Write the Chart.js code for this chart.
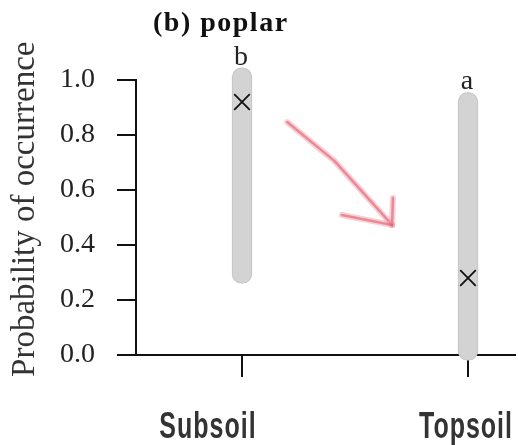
<!DOCTYPE html>
<html>
<head>
<meta charset="utf-8">
<script src="https://cdn.jsdelivr.net/npm/chart.js@4/dist/chart.umd.min.js"></script>
<style>
  html, body { margin: 0; padding: 0; background: #fff; }
  #wrap { width: 518px; height: 445px; }
</style>
</head>
<body>
<div id="wrap"><canvas id="chart"></canvas></div>
<script>
const SERIF = "'Liberation Serif', 'Times New Roman', serif";
const SANS = "'Liberation Sans', Arial, sans-serif";

// datos
const categories = ['Subsoil', 'Topsoil'];
const rangeLow = [0.26, -0.02];
const rangeHigh = [1.045, 0.955];
const meanValues = [0.92, 0.28];
const groupLetters = ['b', 'a'];
const titleText = '(b) poplar';
const yTitle = '  Probability of occurrence';

// flecha roja (x = indice de categoria, y = probabilidad)
const arrowShaft = [[0.2, 0.847], [0.41, 0.705], [0.664, 0.473]];
const arrowHeadUp = [[0.664, 0.473], [0.668, 0.571]];
const arrowHeadLeft = [[0.664, 0.473], [0.442, 0.509]];

// desplazamiento de las etiquetas del eje x respecto a su marca
const labelShift = [-34, -2];

Chart.register({
  id: 'decor',
  afterDatasetsDraw(chart) {
    const { ctx } = chart;
    const xs = chart.scales.x, ys = chart.scales.y;
    const px = p => [xs.getPixelForValue(p[0]), ys.getPixelForValue(p[1])];

    // flecha
    const stroke = (pts, w, col) => {
      ctx.beginPath();
      pts.map(px).forEach(([x, y], i) => i ? ctx.lineTo(x, y) : ctx.moveTo(x, y));
      ctx.lineWidth = w; ctx.strokeStyle = col; ctx.stroke();
    };
    ctx.save();
    ctx.lineCap = 'round'; ctx.lineJoin = 'round';
    [arrowShaft, arrowHeadUp, arrowHeadLeft].forEach(p => {
      stroke(p, 6, 'rgba(240,150,165,0.45)');
      stroke(p, 2.5, 'rgba(225,80,100,0.55)');
    });
    ctx.restore();

    // letras de grupo
    ctx.save();
    ctx.font = `28px ${SERIF}`;
    ctx.fillStyle = '#222';
    ctx.textAlign = 'center';
    ctx.textBaseline = 'alphabetic';
    groupLetters.forEach((l, i) => {
      ctx.fillText(l, xs.getPixelForValue(i) - 1, ys.getPixelForValue(rangeHigh[i]) - 3);
    });
    ctx.restore();

    // titulo
    ctx.save();
    ctx.font = `bold 28px ${SERIF}`;
    ctx.letterSpacing = '1.5px';
    ctx.fillStyle = '#111';
    ctx.textAlign = 'left';
    ctx.fillText(titleText, 153, 31);
    ctx.restore();

    // etiquetas eje x
    categories.forEach((c, i) => {
      ctx.save();
      ctx.translate(xs.getPixelForValue(i) + labelShift[i], chart.chartArea.bottom + 83);
      ctx.scale(1, 1.45);
      ctx.font = `bold 25px ${SANS}`;
      ctx.letterSpacing = '1px';
      ctx.fillStyle = '#333';
      ctx.textAlign = 'center';
      ctx.fillText(c, 0, 0);
      ctx.restore();
    });
  }
});

new Chart(document.getElementById('chart'), {
  type: 'bar',
  data: {
    datasets: [
      {
        type: 'scatter',
        data: meanValues.map((v, i) => ({ x: i, y: v })),
        pointStyle: 'crossRot',
        pointRadius: 11,
        borderWidth: 1.8,
        borderColor: '#111',
        clip: false,
        order: 0
      },
      {
        data: rangeLow.map((v, i) => ({ x: i, y: [v, rangeHigh[i]] })),
        backgroundColor: '#d3d3d3',
        borderColor: '#c2c2c2',
        borderWidth: 1,
        borderRadius: 10,
        borderSkipped: false,
        barThickness: 20,
        clip: false,
        order: 1
      }
    ]
  },
  options: {
    responsive: true,
    maintainAspectRatio: false,
    animation: false,
    layout: { autoPadding: false, padding: { top: 80, right: 3, bottom: 68, left: 6 } },
    plugins: { legend: { display: false }, tooltip: { enabled: false }, title: { display: false } },
    scales: {
      x: {
        type: 'linear',
        offset: false,
        min: -0.469, max: 1.208,
        afterBuildTicks: s => { s.ticks = categories.map((c, i) => ({ value: i })); },
        ticks: { display: false },
        grid: { offset: false, drawOnChartArea: false, tickLength: 22, color: '#111', lineWidth: 2 },
        border: { color: '#111', width: 2 }
      },
      y: {
        min: 0, max: 1,
        afterFit: s => { s.width = 130; },
        ticks: {
          stepSize: 0.2,
          padding: 22,
          color: '#222',
          font: { family: SERIF, size: 28 },
          callback: v => v.toFixed(1)
        },
        grid: { drawOnChartArea: false, tickLength: 19, color: '#111', lineWidth: 2 },
        border: { color: '#111', width: 2 },
        title: {
          display: true,
          text: yTitle,
          color: '#333',
          padding: 0,
          font: { family: SERIF, size: 33 }
        }
      }
    }
  }
});
</script>
</body>
</html>
